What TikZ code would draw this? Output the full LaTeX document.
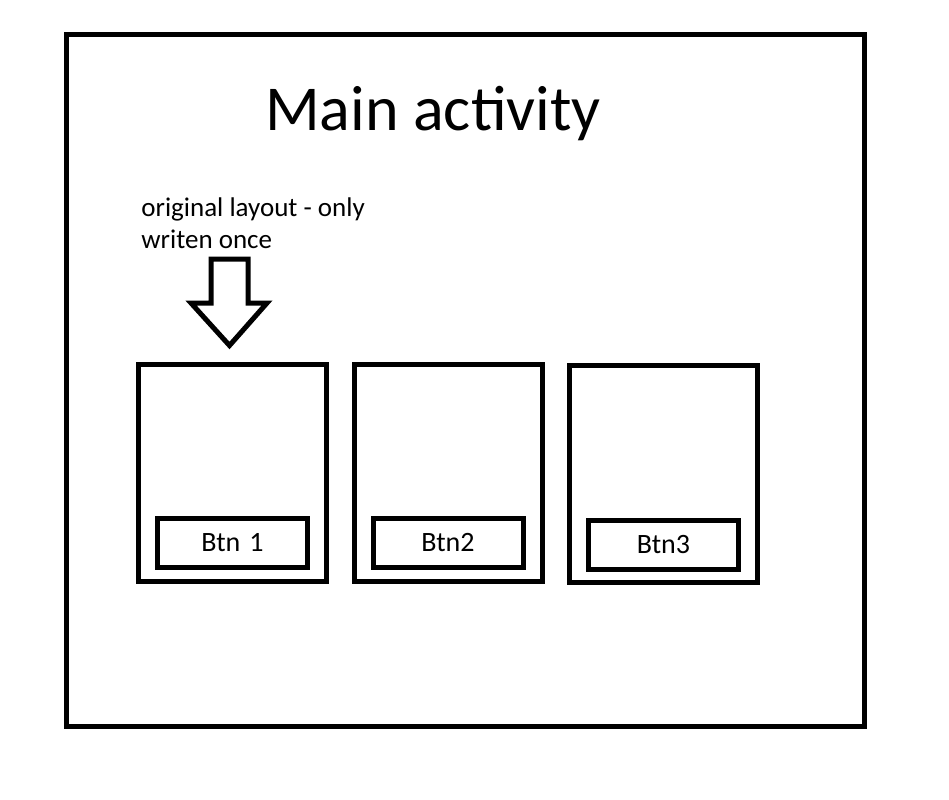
\documentclass[tikz,border=0pt]{standalone}
\usepackage{fontspec}
\setmainfont{Carlito}
\usepackage{tikz}
\usetikzlibrary{positioning}
\tikzset{
  frame/.style={draw=black, line width=2.5pt, minimum width=399pt, minimum height=345.75pt},
  viewbox/.style={draw=black, line width=2.5pt, minimum width=94pt, minimum height=108.5pt, inner sep=0pt},
  btnbox/.style={draw=black, line width=2.5pt, minimum width=75pt, minimum height=24.5pt,
                 inner sep=0pt, font=\fontsize{14}{17}\selectfont},
  bigarrow/.style={draw=black, line width=2.5pt, fill=white, line join=miter},
  titlelbl/.style={font=\fontsize{32}{38}\selectfont, inner sep=0pt},
  notelbl/.style={font=\fontsize{13.5}{16}\selectfont, align=left, inner sep=0pt},
}
\begin{document}
\begin{tikzpicture}[x=0.5pt, y=-0.5pt]
  \useasboundingbox[fill=white] (0,0) rectangle (949,799);
  \node[frame] (main) at (465.5,380.25) {};
  \node[titlelbl, anchor=base] (title) at (433,130) {Main activity};

  \node[viewbox] (v1) at (232.5,472.5) {};
  \node[viewbox, right=11.25pt of v1] (v2) {};
  \node[viewbox, right=11.25pt of v2, yshift=-0.75pt] (v3) {};

  \node[btnbox, above=6.75pt of v1.south] (b1) {Btn\hspace{4.5pt}1\hspace{10pt}};
  \node[btnbox, above=6.75pt of v2.south] (b2) {Btn2\hspace{2.5pt}};
  \node[btnbox, above=6.75pt of v3.south] (b3) {Btn3\hspace{4pt}};

  \node[notelbl, anchor=base west] (note) at (141,248) {original layout - only\\writen once};
  % hollow arrow pointing at the first view
  \coordinate (tip) at (229.5,345.5);
  \draw[bigarrow] (211,259) -- (248,259) -- (248,303) -- (267,303) -- (tip)
    -- (191,303) -- (211,303) -- cycle;
\end{tikzpicture}
\end{document}
